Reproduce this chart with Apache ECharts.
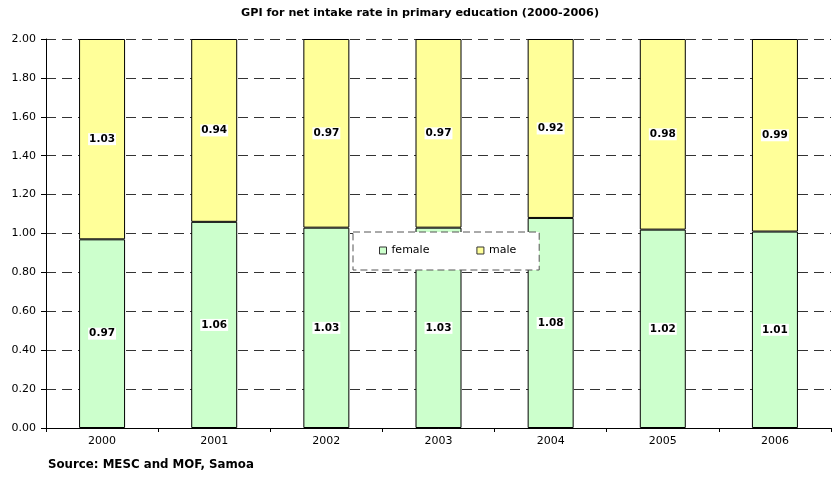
<!DOCTYPE html>
<html>
<head>
<meta charset="utf-8">
<script src="https://cdn.jsdelivr.net/npm/echarts@6/dist/echarts.min.js"></script>
<style>
  html, body { margin: 0; padding: 0; background: #fff; }
  #chart { width: 840px; height: 477px; }
</style>
</head>
<body>
<div id="chart"></div>
<script>
const years = ['2000', '2001', '2002', '2003', '2004', '2005', '2006'];
const female = [0.97, 1.06, 1.03, 1.03, 1.08, 1.02, 1.01];
const male = [1.03, 0.94, 0.97, 0.97, 0.92, 0.98, 0.99];

// police un peu large pour coller au rendu étiré de la référence
const font = '"DejaVu Sans", Arial, sans-serif';

const chart = echarts.init(document.getElementById('chart'), null, { renderer: 'canvas' });

const barLabel = {
    show: true,
    position: 'inside',
    formatter: p => p.value.toFixed(2),
    color: '#000',
    fontFamily: font,
    fontWeight: 'bold',
    fontSize: 10.5,
    backgroundColor: '#fff',
    padding: [1, 1, 0, 1]
};

chart.setOption({
    animation: false,
    title: [
        {
            text: 'GPI for net intake rate in primary education (2000-2006)',
            left: 'center',
            top: 3,
            textStyle: { fontFamily: font, fontSize: 11.2, fontWeight: 'bold', color: '#000' }
        },
        {
            text: 'Source: MESC and MOF, Samoa',
            left: 43,
            top: 454,
            textStyle: { fontFamily: font, fontSize: 11.8, fontWeight: 'bold', color: '#000' }
        }
    ],
    legend: {
        data: ['female', 'male'],
        left: 353,
        top: 232,
        itemGap: 47,
        padding: [13, 23, 14, 26],
        itemWidth: 7,
        itemHeight: 7,
        backgroundColor: '#fff',
        borderColor: '#555',
        borderWidth: 1,
        borderType: [7, 4],
        icon: 'rect',
        itemStyle: { borderColor: '#333', borderWidth: 1 },
        textStyle: { fontFamily: font, fontSize: 11, color: '#000' }
    },
    grid: { left: 46, right: 9, top: 39, bottom: 49, containLabel: false },
    xAxis: {
        type: 'category',
        data: years,
        axisLine: { lineStyle: { color: '#000', width: 1 } },
        axisTick: { show: true, length: 4, lineStyle: { color: '#000' } },
        axisLabel: { fontFamily: font, fontSize: 11, color: '#000', margin: 8 }
    },
    yAxis: {
        type: 'value',
        min: 0,
        max: 2,
        interval: 0.2,
        axisLine: { show: true, lineStyle: { color: '#000' } },
        axisTick: { show: true, length: 5, lineStyle: { color: '#000' } },
        axisLabel: {
            fontFamily: font, fontSize: 11, color: '#000', margin: 10,
            formatter: v => v.toFixed(2)
        },
        splitLine: { show: true, lineStyle: { color: '#333', type: [10, 6], width: 1 } }
    },
    series: [
        {
            name: 'female',
            type: 'bar',
            stack: 'gpi',
            barWidth: 46,
            data: female,
            itemStyle: { color: '#ccffcc', borderColor: '#000', borderWidth: 1 },
            label: barLabel
        },
        {
            name: 'male',
            type: 'bar',
            stack: 'gpi',
            barWidth: 46,
            data: male,
            itemStyle: { color: '#ffff99', borderColor: '#000', borderWidth: 1 },
            label: barLabel
        }
    ]
});

window.addEventListener('resize', chart.resize);
</script>
</body>
</html>
